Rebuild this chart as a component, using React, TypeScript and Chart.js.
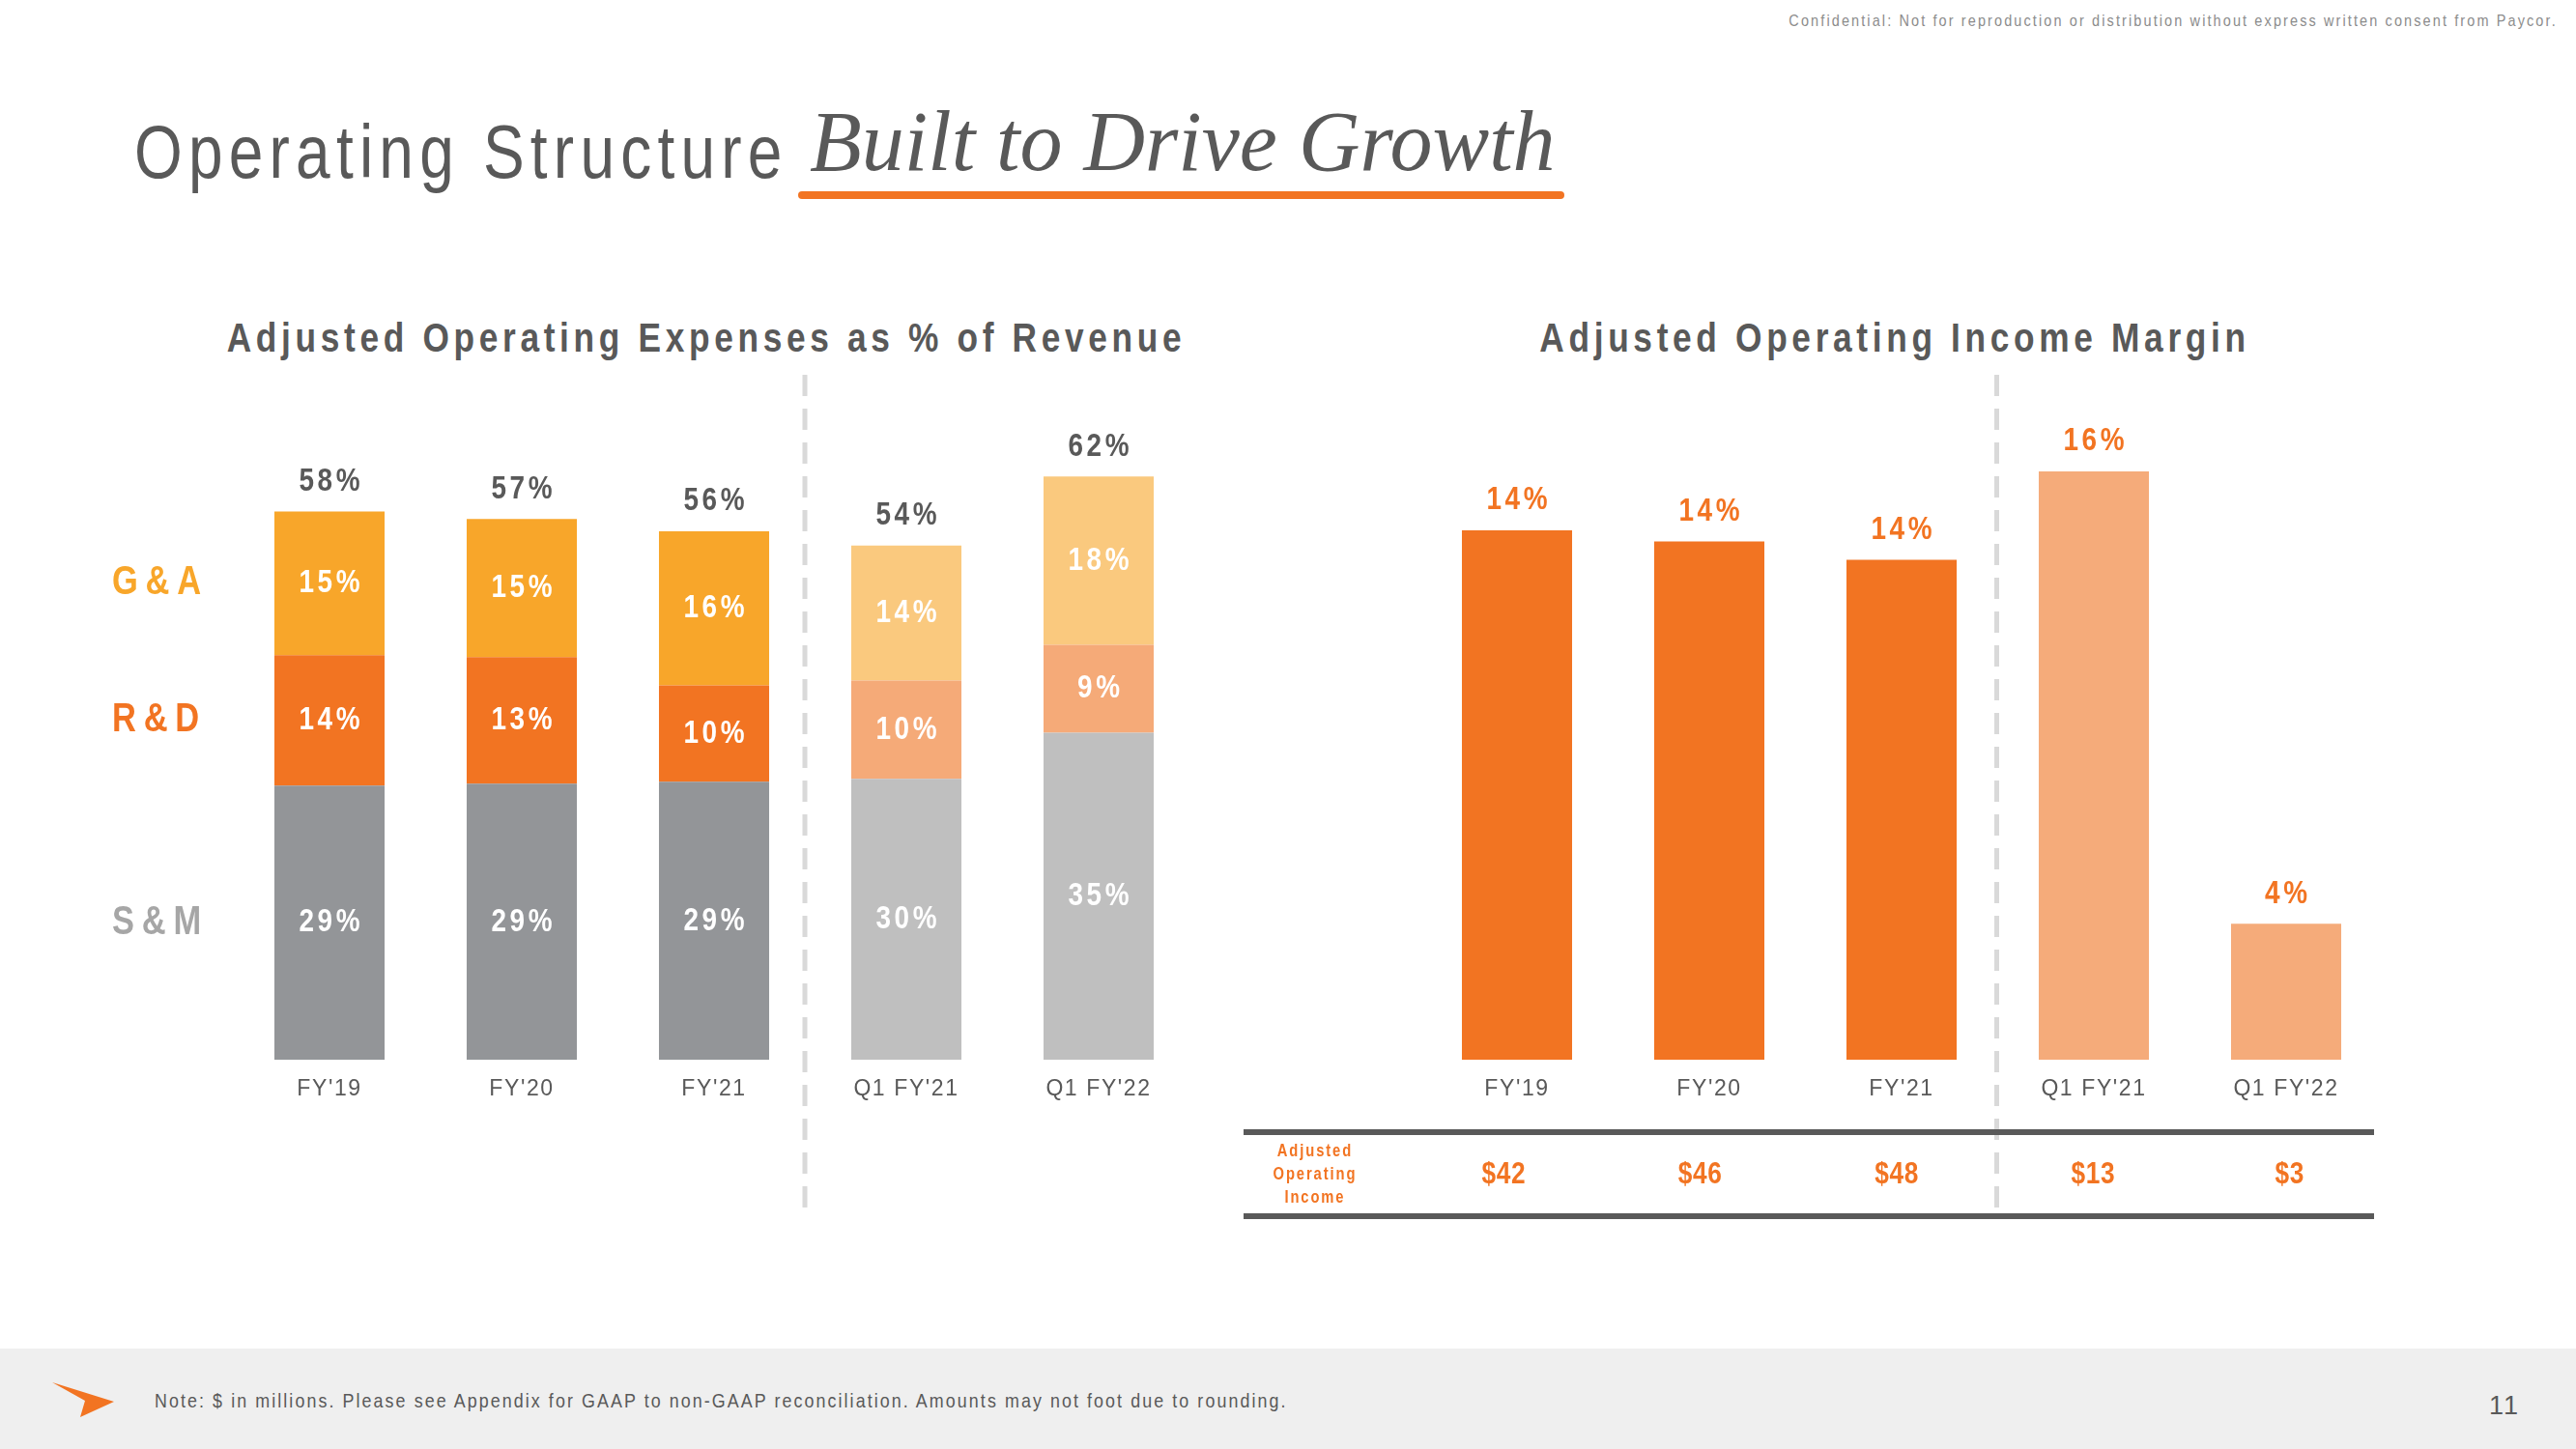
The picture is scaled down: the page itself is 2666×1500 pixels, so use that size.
import React, { useEffect, useRef } from 'react';
import { Chart, registerables } from 'chart.js';

Chart.register(...registerables);

// ---------------- data ----------------
const categories = ["FY'19", "FY'20", "FY'21", "Q1 FY'21", "Q1 FY'22"];
const smValues = [29.0, 29.2, 29.4, 29.7, 34.6];
const rdValues = [13.8, 13.4, 10.2, 10.4, 9.3];
const gaValues = [15.2, 14.6, 16.3, 14.3, 17.8];
const smLabels = ['29%', '29%', '29%', '30%', '35%'];
const rdLabels = ['14%', '13%', '10%', '10%', '9%'];
const gaLabels = ['15%', '15%', '16%', '14%', '18%'];
const expenseTotalLabels = ['58%', '57%', '56%', '54%', '62%'];
const rowLabels = ['G&A', 'R&D', 'S&M'];

const marginValues = [14.4, 14.1, 13.6, 16.0, 3.7];
const marginLabels = ['14%', '14%', '14%', '16%', '4%'];
const incomeLabels = ['$42', '$46', '$48', '$13', '$3'];
const incomeRowLabel = ['Adjusted', 'Operating', 'Income'];

// ---------------- style ----------------
const FONT = "'Liberation Sans Narrow', 'Arial Narrow', 'Liberation Sans', Arial, sans-serif";
const NARROW = 0.82;
const DARK = '#595959';
const ORANGE = '#F27422';
const smColors = ['#939598', '#939598', '#939598', '#BFBFBF', '#BFBFBF'];
const rdColors = ['#F27422', '#F27422', '#F27422', '#F5AA78', '#F5AA78'];
const gaColors = ['#F8A62A', '#F8A62A', '#F8A62A', '#FAC97E', '#FAC97E'];
const marginColors = ['#F27422', '#F27422', '#F27422', '#F5AB7A', '#F5AB7A'];
const rowLabelColors = ['#F8A62A', '#F27422', '#A6A6A6'];

const CANVAS_TOP = 380;
const CANVAS_W = 1200;
const CANVAS_H = 890;
const PAD_TOP = 32;
const AREA_BOTTOM = 717; // canvas coords -> page y 1097

const spacingPlugin = {
  id: 'spacing',
  beforeDraw(chart: any) {
    chart.ctx.letterSpacing = '1.6px';
  },
};

function drawDashedSeparator(chart: any, offset: number) {
  const ctx = chart.ctx;
  const xs = chart.scales.x;
  const x = (xs.getPixelForValue(2) + xs.getPixelForValue(3)) / 2 + offset;
  ctx.save();
  ctx.strokeStyle = '#D9D9D9';
  ctx.lineWidth = 5;
  ctx.setLineDash([22, 13]);
  ctx.beginPath();
  ctx.moveTo(x, 8);
  ctx.lineTo(x, 870);
  ctx.stroke();
  ctx.restore();
}

// draws condensed text (horizontal compression emulating a narrow face)
function drawText(ctx: any, text: string, x: number, y: number, font: string, color: string, spacing: number, align: string = 'center') {
  ctx.save();
  ctx.font = font;
  ctx.fillStyle = color;
  ctx.letterSpacing = spacing + 'px';
  ctx.textBaseline = 'middle';
  ctx.textAlign = 'left';
  const w = (ctx.measureText(text).width - spacing) * NARROW;
  const startX = align === 'center' ? x - w / 2 : x;
  ctx.translate(startX, y);
  ctx.scale(NARROW, 1);
  ctx.fillText(text, 0, 0);
  ctx.restore();
}

const expensePlugin = {
  id: 'expenseLabels',
  beforeDatasetsDraw(chart: any) {
    drawDashedSeparator(chart, -5.5);
  },
  afterDatasetsDraw(chart: any) {
    const ctx = chart.ctx;
    const labelSets = [smLabels, rdLabels, gaLabels];
    const bold = `bold 34px ${FONT}`;
    chart.data.datasets.forEach((_: any, di: number) => {
      const meta = chart.getDatasetMeta(di);
      meta.data.forEach((el: any, i: number) => {
        const cy = (el.y + el.base) / 2;
        drawText(ctx, labelSets[di][i], el.x, cy, bold, '#FFFFFF', 4.4);
      });
    });
    const topMeta = chart.getDatasetMeta(2);
    topMeta.data.forEach((el: any, i: number) => {
      drawText(ctx, expenseTotalLabels[i], el.x, el.y - 31, bold, DARK, 4.4);
    });
    // row labels next to first bar
    const order = [2, 1, 0];
    order.forEach((di, k) => {
      const el = chart.getDatasetMeta(di).data[0];
      const cy = (el.y + el.base) / 2;
      drawText(ctx, rowLabels[k], 16, cy, `bold 42px ${FONT}`, rowLabelColors[k], 9.5, 'left');
    });
  },
};

const marginPlugin = {
  id: 'marginLabels',
  beforeDatasetsDraw(chart: any) {
    drawDashedSeparator(chart, -1);
  },
  afterDatasetsDraw(chart: any) {
    const ctx = chart.ctx;
    const bold = `bold 34px ${FONT}`;
    const meta = chart.getDatasetMeta(0);
    meta.data.forEach((el: any, i: number) => {
      drawText(ctx, marginLabels[i], el.x, el.y - 31, bold, ORANGE, 4.4);
    });
    // income table
    ctx.save();
    ctx.fillStyle = DARK;
    ctx.fillRect(7, 789, 1170, 6);
    ctx.fillRect(7, 876, 1170, 6);
    ctx.restore();
    incomeRowLabel.forEach((t, k) => {
      drawText(ctx, t, 80, 812 + k * 24, `bold 18px ${FONT}`, ORANGE, 2.3);
    });
    const xs = chart.scales.x;
    const step = (xs.getPixelForValue(1) - xs.getPixelForValue(0)) * 1.022;
    const first = xs.getPixelForValue(0) - 14;
    incomeLabels.forEach((t, i) => {
      drawText(ctx, t, first + i * step, 836, `bold 32px ${FONT}`, ORANGE, 0.8);
    });
  },
};

function baseOptions(yMax: number, padLeft: number, padRight: number) {
  return {
    responsive: false,
    animation: false as const,
    layout: { padding: { top: PAD_TOP, bottom: 0, left: padLeft, right: padRight } },
    plugins: { legend: { display: false }, tooltip: { enabled: false }, title: { display: false } },
    scales: {
      x: {
        stacked: true,
        grid: { display: false, drawTicks: false },
        border: { display: false },
        ticks: { color: DARK, font: { family: FONT, size: 23 }, padding: 17, maxRotation: 0, autoSkip: false },
        afterFit: (scale: any) => {
          scale.height = CANVAS_H - AREA_BOTTOM;
        },
      },
      y: { stacked: true, display: false, min: 0, max: yMax },
    },
  };
}

function ExpenseChart() {
  const ref = useRef<HTMLCanvasElement>(null);
  useEffect(() => {
    const chart = new Chart(ref.current as HTMLCanvasElement, {
      type: 'bar',
      data: {
        labels: categories,
        datasets: [
          { label: 'S&M', data: smValues, backgroundColor: smColors, categoryPercentage: 1, barPercentage: 0.573 },
          { label: 'R&D', data: rdValues, backgroundColor: rdColors, categoryPercentage: 1, barPercentage: 0.573 },
          { label: 'G&A', data: gaValues, backgroundColor: gaColors, categoryPercentage: 1, barPercentage: 0.573 },
        ],
      },
      options: baseOptions(70, 141.5, 63.5) as any,
      plugins: [spacingPlugin, expensePlugin],
    });
    return () => chart.destroy();
  }, []);
  return (
    <canvas
      ref={ref}
      width={CANVAS_W}
      height={CANVAS_H}
      style={{ position: 'absolute', left: 100, top: CANVAS_TOP, width: CANVAS_W, height: CANVAS_H }}
    />
  );
}

function MarginChart() {
  const ref = useRef<HTMLCanvasElement>(null);
  useEffect(() => {
    const chart = new Chart(ref.current as HTMLCanvasElement, {
      type: 'bar',
      data: {
        labels: categories,
        datasets: [
          { label: 'Adjusted Operating Income Margin', data: marginValues, backgroundColor: marginColors, categoryPercentage: 1, barPercentage: 0.573 },
        ],
      },
      options: baseOptions(18, 190.5, 14.5) as any,
      plugins: [spacingPlugin, marginPlugin],
    });
    return () => chart.destroy();
  }, []);
  return (
    <canvas
      ref={ref}
      width={CANVAS_W}
      height={CANVAS_H}
      style={{ position: 'absolute', left: 1280, top: CANVAS_TOP, width: CANVAS_W, height: CANVAS_H }}
    />
  );
}

export default function App() {
  const titleStyle = (cx: number): React.CSSProperties => ({
    position: 'absolute',
    left: cx - 700,
    width: 1400,
    top: 349 - 26,
    height: 52,
    lineHeight: '52px',
    textAlign: 'center',
    fontFamily: FONT,
    fontWeight: 'bold',
    fontSize: 43,
    letterSpacing: 5.7,
    color: DARK,
    whiteSpace: 'nowrap',
    transform: `scaleX(${NARROW})`,
    transformOrigin: 'center',
  });
  return (
    <div
      style={{
        position: 'absolute',
        left: 0,
        top: 0,
        width: 2666,
        height: 1500,
        background: '#FFFFFF',
        overflow: 'hidden',
        fontFamily: FONT,
      }}
    >
      <div
        style={{
          position: 'absolute',
          right: 19,
          top: 12,
          fontSize: 17,
          color: '#8C8C8C',
          letterSpacing: 2.5,
          whiteSpace: 'nowrap',
          transform: 'scaleX(0.85)',
          transformOrigin: 'right center',
        }}
      >
        Confidential: Not for reproduction or distribution without express written consent from Paycor.
      </div>
      <div
        style={{
          position: 'absolute',
          left: 139,
          top: 118,
          fontSize: 78,
          lineHeight: '78px',
          color: DARK,
          letterSpacing: 7.6,
          whiteSpace: 'nowrap',
          transform: `scaleX(${NARROW})`,
          transformOrigin: 'left center',
        }}
      >
        Operating Structure
      </div>
      <div
        style={{
          position: 'absolute',
          left: 838,
          top: 92,
          fontSize: 88,
          lineHeight: '110px',
          fontFamily: "'Liberation Serif', 'DejaVu Serif', serif",
          fontStyle: 'italic',
          color: DARK,
          whiteSpace: 'nowrap',
        }}
      >
        Built to Drive Growth
      </div>
      <div
        style={{
          position: 'absolute',
          left: 826,
          top: 198,
          width: 793,
          height: 8,
          borderRadius: 4,
          background: ORANGE,
        }}
      />
      <div style={titleStyle(731)}>Adjusted Operating Expenses as % of Revenue</div>
      <div style={titleStyle(1961)}>Adjusted Operating Income Margin</div>
      <ExpenseChart />
      <MarginChart />
      <div style={{ position: 'absolute', left: 0, top: 1396, width: 2666, height: 104, background: '#EFEFEF' }} />
      <svg style={{ position: 'absolute', left: 50, top: 1428 }} width={74} height={42} viewBox="0 0 74 42">
        <polygon points="4,3 68,23 33,39 38,22" fill={ORANGE} />
      </svg>
      <div
        style={{
          position: 'absolute',
          left: 160,
          top: 1436,
          fontSize: 21,
          lineHeight: '28px',
          color: DARK,
          letterSpacing: 2.45,
          whiteSpace: 'nowrap',
          transform: 'scaleX(0.85)',
          transformOrigin: 'left center',
        }}
      >
        Note: $ in millions. Please see Appendix for GAAP to non-GAAP reconciliation. Amounts may not foot due to rounding.
      </div>
      <div
        style={{
          position: 'absolute',
          right: 2666 - 2608,
          top: 1440,
          fontSize: 27,
          lineHeight: '30px',
          color: DARK,
          letterSpacing: 2,
        }}
      >
        11
      </div>
    </div>
  );
}
